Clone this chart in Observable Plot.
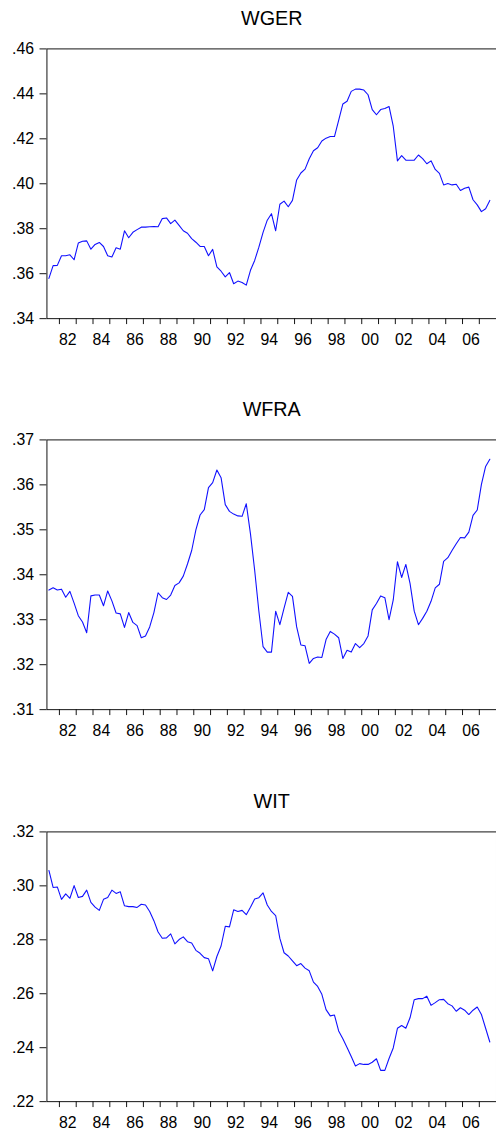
<!DOCTYPE html>
<html>
<head>
<meta charset="utf-8">
<script src="https://cdn.jsdelivr.net/npm/d3@7"></script>
<script src="https://cdn.jsdelivr.net/npm/@observablehq/plot@0.6"></script>
<style>
html, body { margin: 0; padding: 0; background: #fff; overflow: hidden; }
#wrap { width: 496px; height: 1147px; overflow: hidden; }
#wrap svg { display: block; }
</style>
</head>
<body>
<div id="wrap"></div>
<script>
// Quarterly series, first observation 1981Q2
const startYear = 1981;
const startQuarter = 2;

const wger = [
  .3579,.3636,.3637,.3680,.3680,.3684,.3662,.3736,.3744,.3746,
  .3709,.3730,.3739,.3721,.3680,.3674,.3715,.3709,.3791,.3760,
  .3784,.3796,.3807,.3807,.3809,.3810,.3809,.3845,.3848,.3823,
  .3838,.3815,.3791,.3780,.3756,.3740,.3721,.3721,.3680,.3708,
  .3630,.3611,.3586,.3605,.3555,.3567,.3561,.3549,.3615,.3659,
  .3718,.3784,.3838,.3867,.3791,.3909,.3923,.3898,.3926,.4017,
  .4048,.4065,.4111,.4147,.4160,.4190,.4203,.4210,.4210,.4282,
  .4355,.4367,.4411,.4421,.4421,.4417,.4396,.4330,.4307,.4330,
  .4335,.4344,.4256,.4102,.4125,.4105,.4105,.4105,.4128,.4112,
  .4089,.4102,.4064,.4046,.3995,.4001,.3995,.3998,.3970,.3980,
  .3985,.3929,.3906,.3876,.3889,.3926
];

const wfra = [
  .3366,.3371,.3366,.3368,.3350,.3363,.3337,.3309,.3295,.3271,
  .3353,.3355,.3355,.3331,.3364,.3342,.3315,.3313,.3283,.3316,
  .3294,.3287,.3260,.3264,.3284,.3316,.3360,.3349,.3345,.3355,
  .3376,.3382,.3397,.3424,.3454,.3500,.3533,.3545,.3594,.3605,
  .3633,.3616,.3556,.3541,.3535,.3531,.3530,.3558,.3491,.3410,
  .3319,.3240,.3228,.3228,.3319,.3289,.3326,.3361,.3352,.3284,
  .3244,.3242,.3203,.3214,.3217,.3216,.3256,.3274,.3268,.3260,
  .3214,.3232,.3228,.3247,.3238,.3247,.3264,.3322,.3336,.3353,
  .3349,.3300,.3344,.3429,.3394,.3423,.3381,.3319,.3289,.3303,
  .3319,.3341,.3371,.3379,.3430,.3438,.3454,.3469,.3483,.3482,
  .3495,.3532,.3544,.3601,.3641,.3657
];

const wit = [
  .3057,.2994,.2996,.2950,.2970,.2954,.3001,.2957,.2961,.2984,
  .2939,.2921,.2909,.2950,.2957,.2984,.2972,.2978,.2926,.2923,
  .2923,.2920,.2932,.2929,.2905,.2871,.2829,.2806,.2807,.2822,
  .2785,.2801,.2811,.2793,.2788,.2761,.2750,.2734,.2730,.2685,
  .2738,.2777,.2850,.2848,.2911,.2905,.2909,.2893,.2921,.2951,
  .2956,.2974,.2929,.2905,.2890,.2805,.2752,.2740,.2722,.2704,
  .2712,.2695,.2685,.2643,.2627,.2598,.2541,.2518,.2521,.2462,
  .2433,.2401,.2367,.2332,.2341,.2338,.2338,.2346,.2359,.2316,
  .2316,.2360,.2399,.2472,.2482,.2472,.2511,.2578,.2582,.2582,
  .2591,.2557,.2567,.2578,.2579,.2563,.2555,.2535,.2548,.2539,
  .2523,.2539,.2551,.2523,.2472,.2421
];

const titles = ["WGER", "WFRA", "WIT"];
const yTicksGer = [.34, .36, .38, .40, .42, .44, .46];
const yTicksFra = [.31, .32, .33, .34, .35, .36, .37];
const yTicksIt  = [.22, .24, .26, .28, .30, .32];
const tickYears  = d3.range(1982, 2008);              // year boundaries
const labelYears = d3.range(1982, 2008, 2);           // 82, 84, ... 06

const font = "'Liberation Sans', Arial, Helvetica, sans-serif";
const xMin = 1981.375 - 2 / 17;
const xMax = xMin + 455 / 17;

function panel(title, values, yTicks, height, marginBottom) {
  const data = values.map((v, i) => ({t: startYear + (startQuarter - 1 + i + 0.5) / 4, v}));
  return Plot.plot({
    width: 502,
    height,
    marginLeft: 47,
    marginRight: 0,
    marginTop: 49,
    marginBottom,
    style: {fontFamily: font, fontSize: "16px", color: "#000", background: "#fff", overflow: "visible"},
    x: {type: "linear", domain: [xMin, xMax], label: null},
    y: {type: "linear", domain: d3.extent(yTicks), label: null},
    marks: [
      Plot.frame({stroke: "#111"}),
      Plot.axisX(tickYears, {tickSize: 6, tickFormat: () => "", stroke: "#111", label: null}),
      Plot.axisX(labelYears.map(y => y + 0.5), {
        tickSize: 0, tickPadding: 15, fontSize: 16, label: null,
        tickFormat: d => String(Math.floor(d) % 100).padStart(2, "0")
      }),
      Plot.axisY(yTicks, {
        tickSize: 7, tickPadding: 6, fontSize: 16, stroke: "#111", label: null,
        tickFormat: d => d3.format(".2f")(d).replace(/^0/, "")
      }),
      Plot.line(data, {x: "t", y: "v", stroke: "#1010ff", strokeWidth: 1.1}),
      Plot.text([title], {frameAnchor: "top", lineAnchor: "middle", dy: -31, fontSize: 20, fill: "#000"})
    ]
  });
}

const wrap = document.getElementById("wrap");
wrap.appendChild(panel(titles[0], wger, yTicksGer, 396, 74));
wrap.appendChild(panel(titles[1], wfra, yTicksFra, 396, 74));
wrap.appendChild(panel(titles[2], wit, yTicksIt, 355, 33));
</script>
</body>
</html>
